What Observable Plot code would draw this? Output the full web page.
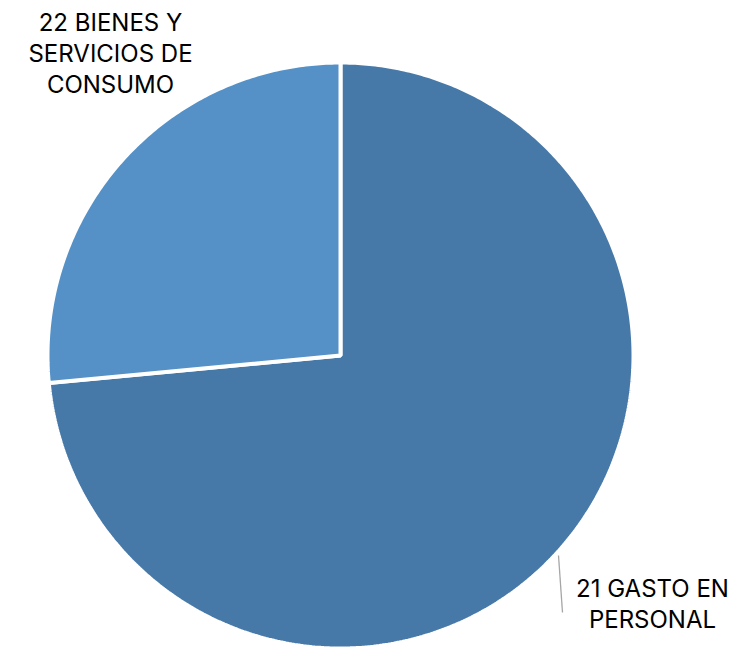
<!DOCTYPE html>
<html>
<head>
<meta charset="utf-8">
<script src="https://cdn.jsdelivr.net/npm/d3@7"></script>
<script src="https://cdn.jsdelivr.net/npm/@observablehq/plot@0.6"></script>
<style>
  html, body { margin: 0; padding: 0; background: #fff; }
  #chart { width: 744px; height: 648px; }
</style>
</head>
<body>
<div id="chart"></div>
<script>
// Data
const categories = ["21 GASTO EN PERSONAL", "22 BIENES Y SERVICIOS DE CONSUMO"];
const labelText = ["21 GASTO EN\nPERSONAL", "22 BIENES Y\nSERVICIOS DE\nCONSUMO"];
const shares = [73.5, 26.5];
const colors = ["#4779A8", "#5591C7"];

// Layout
const W = 744, H = 648;
const cx = 340, cy = 355, R = 293;

const pie = d3.pie().sort(null).value(d => d.value).startAngle(0).endAngle(2 * Math.PI);
const arcs = pie(categories.map((c, i) => ({category: c, value: shares[i], color: colors[i]})));

// Build slice polygons (center + arc points) from the pie angles
const polys = [];
arcs.forEach(a => {
  const n = Math.max(8, Math.ceil((a.endAngle - a.startAngle) / 0.01));
  polys.push({category: a.data.category, color: a.data.color, x: cx, y: cy});
  for (let k = 0; k <= n; k++) {
    const t = a.startAngle + (a.endAngle - a.startAngle) * k / n;
    polys.push({category: a.data.category, color: a.data.color, x: cx + R * Math.sin(t), y: cy - R * Math.cos(t)});
  }
});

const labels = [
  {text: labelText[0], x: 652, y: 574},
  {text: labelText[1], x: 110, y: 8}
];
const leader = [{x1: 558, y1: 555, x2: 562, y2: 612}];

const chart = Plot.plot({
  width: W, height: H,
  margin: 0,
  x: {domain: [0, W], range: [0, W], axis: null},
  y: {domain: [0, H], range: [0, H], axis: null},
  style: {background: "#fff", fontFamily: "Inter, sans-serif"},
  marks: [
    Plot.line(polys, {x: "x", y: "y", z: "category", fill: "color", stroke: "#fff", strokeWidth: 4, curve: "linear-closed", strokeLinejoin: "miter"}),
    Plot.link(leader, {x1: "x1", y1: "y1", x2: "x2", y2: "y2", stroke: "#A6A6A6", strokeWidth: 1.3}),
    Plot.text(labels, {x: "x", y: "y", text: "text", lineAnchor: "top", textAnchor: "middle", fontSize: 24, lineHeight: 1.3, fill: "#000"})
  ]
});
document.getElementById("chart").appendChild(chart);
</script>
</body>
</html>
